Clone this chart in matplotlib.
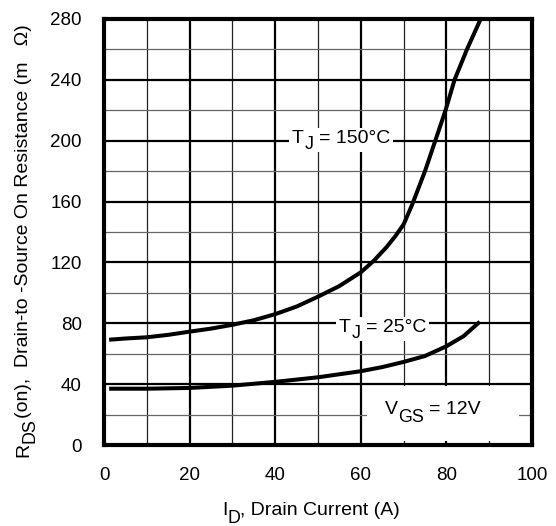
import numpy as np
import matplotlib
matplotlib.use('Agg')
import matplotlib.pyplot as plt
from matplotlib.patches import Rectangle
from matplotlib.ticker import MultipleLocator

plt.rcParams['font.family'] = ['Liberation Sans', 'DejaVu Sans']

id_150 = [1.2, 5, 10, 15, 20, 25, 30, 35, 40, 45, 50, 55, 60, 63, 66, 68,
          70, 72, 75, 77.4, 79.8, 81.9, 84.8, 88]
rds_150 = [69.2, 70, 70.8, 72.4, 74.5, 76.5, 79, 82, 86, 91, 97.5, 104.5,
           113.5, 121, 130, 137, 145, 158, 180, 200, 220, 240, 260, 280]

id_25 = [1.2, 10, 20, 30, 40, 50, 60, 65, 70, 75, 80, 84, 87.8]
rds_25 = [37, 37, 37.5, 39, 41.5, 44.5, 48.5, 51.2, 54.6, 58.5, 64.9, 71.5, 81]

x_ticks = [0, 20, 40, 60, 80, 100]
y_ticks = [0, 40, 80, 120, 160, 200, 240, 280]

W, H = 556, 526
fig = plt.figure(figsize=(W / 100, H / 100), dpi=100)
ax = fig.add_axes([104 / W, 1 - 445 / H, 428 / W, 426 / H])

ax.set_xlim(0, 100)
ax.set_ylim(0, 280)
ax.set_xticks(x_ticks)
ax.set_yticks(y_ticks)
ax.xaxis.set_minor_locator(MultipleLocator(10))
ax.yaxis.set_minor_locator(MultipleLocator(20))
ax.grid(which='major', color='black', linewidth=1.6, zorder=1)
ax.grid(which='minor', axis='x', color='#222222', linewidth=0.9, zorder=1)
ax.grid(which='minor', axis='y', color='#666666', linewidth=0.9, zorder=1)
ax.tick_params(which='both', length=0, labelsize=13.5, pad=16)
ax.tick_params(axis='x', pad=16)
ax.set_axisbelow(True)

for s in ax.spines.values():
    s.set_linewidth(3)
    s.set_zorder(5)

# white box for the V_GS note
ax.add_patch(Rectangle((61.5, 2.5), 35.5, 36.5, facecolor='white',
                       edgecolor='none', zorder=2))

ax.plot(id_150, rds_150, color='black', linewidth=2.9, zorder=3,
        solid_capstyle='butt', solid_joinstyle='round')
ax.plot(id_25, rds_25, color='black', linewidth=2.9, zorder=3,
        solid_capstyle='butt', solid_joinstyle='round')

renderer = fig.canvas.get_renderer()


def put_parts(start, base, parts, size, drop, rotation=0, white=False):
    # parts: (text, is_subscript, gap_before_em); pixels from bottom-left.
    # start runs along the text (x, or y when rotated), base is the baseline
    sizes = []
    widths = []
    for s, sub, gap in parts:
        fs = size * (0.92 if sub else 1.0)
        t = fig.text(0, 0, s, fontsize=fs)
        widths.append(t.get_window_extent(renderer).width)
        t.remove()
        sizes.append(fs)
    pos = start
    px = size * 100 / 72
    for (s, sub, gap), w, fs in zip(parts, widths, sizes):
        pos += gap * px
        shift = -drop * px if sub else 0
        if rotation == 0:
            x, y = pos, base + shift
        else:
            x, y = base - shift, pos
        fig.text(x / W, y / H, s, fontsize=fs, rotation=rotation,
                 rotation_mode='anchor', ha='left', va='baseline', zorder=6)
        pos += w
    if white:
        fig.add_artist(Rectangle(((start - 3) / W, (base - 0.45 * px) / H),
                                 (pos - start + 6) / W, 1.2 * px / H,
                                 facecolor='white', edgecolor='none',
                                 transform=fig.transFigure, zorder=5.5))


put_parts(292, H - 143, [('T', False, 0), ('J', True, 0.02),
                         ('= 150°C', False, 0.28)], 14, 0.3, white=True)
put_parts(339, H - 332, [('T', False, 0), ('J', True, 0.02),
                         ('= 25°C', False, 0.28)], 14, 0.3, white=True)
put_parts(385, H - 414, [('V', False, 0), ('GS', True, 0.0),
                         ('= 12V', False, 0.28)], 14, 0.42)
put_parts(222, H - 515, [('I', False, 0), ('D', True, 0.0),
                         (', Drain Current (A)', False, 0.0)], 14, 0.42)
put_parts(H - 457, 28, [('R', False, 0), ('DS', True, 0.0),
                        ('(on),  Drain-to -Source On Resistance (m   Ω)', False, 0.0)],
          14, 0.35, rotation=90)

fig.savefig('out.png', dpi=100)
